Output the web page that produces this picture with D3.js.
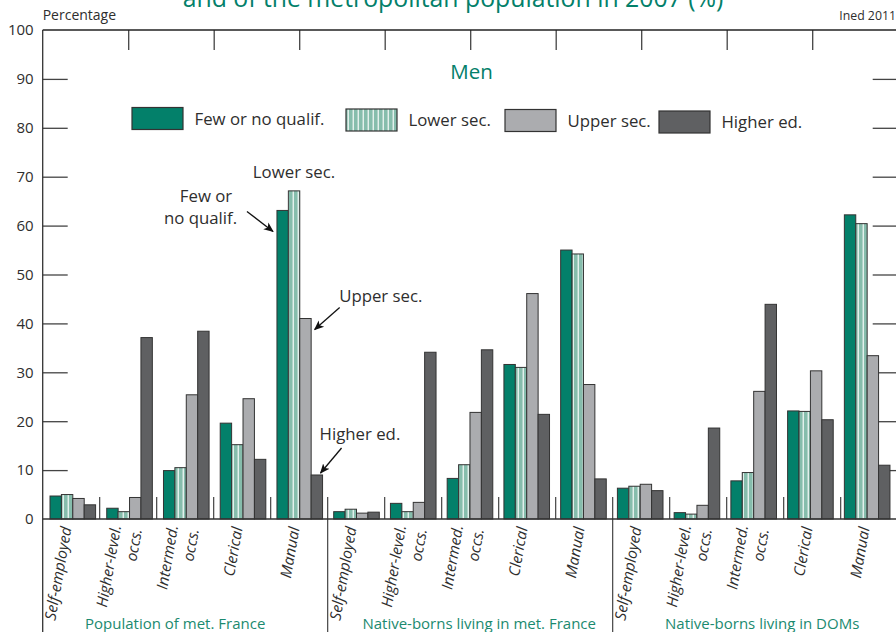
<!DOCTYPE html>
<html>
<head>
<meta charset="utf-8">
<script src="https://cdn.jsdelivr.net/npm/d3@7"></script>
<style>
  html, body { margin: 0; padding: 0; background: #fff; }
  svg { display: block; font-family: "Open Sans", "Noto Sans", sans-serif; }
</style>
</head>
<body>
<svg id="chart" width="896" height="632"></svg>
<script>
// ---------- DATA ----------
const titleText = "and of the metropolitan population in 2007 (%)";
const panelTitle = "Men";
const yAxisLabel = "Percentage";
const sourceText = "Ined 2011";
const groups = ["Population of met. France", "Native-borns living in met. France", "Native-borns living in DOMs"];
const occupations = [["Self-employed"], ["Higher-level.", "occs."], ["Intermed.", "occs."], ["Clerical"], ["Manual"]];
const seriesNames = ["Few or no qualif.", "Lower sec.", "Upper sec.", "Higher ed."];
const yTicks = [0, 10, 20, 30, 40, 50, 60, 70, 80, 90, 100];
// values: 3 groups x 5 occupations, in order
const fewOrNoQualif = [4.7, 2.2, 9.9, 19.6, 63.1,  1.5, 3.2, 8.3, 31.6, 55.0,  6.3, 1.3, 7.8, 22.1, 62.2];
const lowerSec      = [5.0, 1.5, 10.5, 15.2, 67.1, 2.0, 1.5, 11.1, 31.0, 54.2, 6.7, 1.0, 9.5, 22.0, 60.4];
const upperSec      = [4.2, 4.4, 25.4, 24.6, 41.0, 1.2, 3.4, 21.8, 46.1, 27.5, 7.1, 2.8, 26.1, 30.3, 33.4];
const higherEd      = [2.9, 37.1, 38.4, 12.2, 9.0, 1.4, 34.1, 34.6, 21.4, 8.2,  5.8, 18.6, 43.9, 20.3, 11.0];
const annotations = [
  { lines: ["Few or", "no qualif."], series: 0, cat: 4 },
  { lines: ["Lower sec."], series: 1, cat: 4 },
  { lines: ["Upper sec."], series: 2, cat: 4 },
  { lines: ["Higher ed."], series: 3, cat: 4 }
];

// ---------- LAYOUT ----------
const seriesValues = [fewOrNoQualif, lowerSec, upperSec, higherEd];
const nCat = groups.length * occupations.length;
const cats = d3.range(nCat);
const pLeft = 42.7, pRight = 897.7, pTop = 30, pBase = 519, pBottom = 632;
const teal = "#03806a", lightTeal = "#86bdac", upperGray = "#abacaf", darkGray = "#5f6062";
const fills = [teal, "url(#stripes)", upperGray, darkGray];
const ink = "#333";
const textCol = "#2e2e2e";

const svg = d3.select("#chart");
const defs = svg.append("defs");
const pat = defs.append("pattern").attr("id", "stripes").attr("patternUnits", "userSpaceOnUse")
  .attr("width", 5).attr("height", 10);
pat.append("rect").attr("width", 5).attr("height", 10).attr("fill", lightTeal);
pat.append("rect").attr("x", 2.6).attr("width", 1.3).attr("height", 10).attr("fill", "#eef6f3");
defs.append("marker").attr("id", "arrow").attr("viewBox", "0 0 10 10").attr("refX", 9).attr("refY", 5)
  .attr("markerWidth", 10).attr("markerHeight", 10).attr("markerUnits", "userSpaceOnUse").attr("orient", "auto")
  .append("path").attr("d", "M0,0.8 L10,5 L0,9.2 L2.5,5 Z").attr("fill", "#111");

const y = d3.scaleLinear().domain([0, 100]).range([pBase, pTop]);
const xSep = d3.scaleLinear().domain([0, nCat]).range([pLeft, pRight]);
const xBar = d3.scaleBand().domain(cats).range([50, 50 + nCat * 56.74]).paddingInner(0).paddingOuter(0);
const xInner = d3.scaleBand().domain(d3.range(seriesNames.length)).range([0, 45.6]);
const xTop = d3.scaleLinear().domain([0, 10]).range([pLeft, pRight]);

// ---------- AXES ----------
const gLeft = svg.append("g").attr("transform", `translate(${pLeft},0)`)
  .call(d3.axisLeft(y).tickValues(yTicks).tickSizeInner(-25).tickSizeOuter(0).tickPadding(9));
gLeft.select(".domain").remove();
gLeft.selectAll(".tick line").attr("stroke", "#444").attr("stroke-width", 1.3)
  .filter(d => d === 0 || d === 100).remove();
gLeft.selectAll(".tick text").attr("font-size", 15).attr("fill", textCol).attr("font-family", "Open Sans");

const gRight = svg.append("g").attr("transform", `translate(${pRight},0)`)
  .call(d3.axisRight(y).tickValues(yTicks.filter(d => d > 0 && d < 100)).tickSizeInner(-25).tickSizeOuter(0).tickFormat(""));
gRight.select(".domain").remove();
gRight.selectAll(".tick line").attr("stroke", "#444").attr("stroke-width", 1.3);

const gTop = svg.append("g").attr("transform", `translate(0,${pTop})`)
  .call(d3.axisTop(xTop).tickValues(d3.range(1, 10)).tickSizeInner(-20).tickSizeOuter(0).tickFormat(""));
gTop.select(".domain").remove();
gTop.selectAll(".tick line").attr("stroke", "#444").attr("stroke-width", 1.3);

// frame lines
svg.append("line").attr("x1", pLeft).attr("x2", pRight).attr("y1", pTop).attr("y2", pTop).attr("stroke", "#222").attr("stroke-width", 1.4);
svg.append("line").attr("x1", pLeft).attr("x2", pLeft).attr("y1", pTop).attr("y2", pBottom).attr("stroke", "#333").attr("stroke-width", 1.3);

// category separators
svg.append("g").selectAll("line").data(d3.range(1, nCat)).join("line")
  .attr("x1", d => xSep(d)).attr("x2", d => xSep(d))
  .attr("y1", pBase - 22).attr("y2", d => d % occupations.length === 0 ? pBottom : pBase)
  .attr("stroke", "#333").attr("stroke-width", 1.1);

// ---------- BARS ----------
const barData = [];
cats.forEach(c => seriesValues.forEach((vals, s) => barData.push({ c, s, v: vals[c] })));
svg.append("g").selectAll("rect").data(barData).join("rect")
  .attr("x", d => xBar(d.c) + xInner(d.s))
  .attr("y", d => y(d.v))
  .attr("width", xInner.bandwidth())
  .attr("height", d => y(0) - y(d.v))
  .attr("fill", d => fills[d.s])
  .attr("stroke", ink).attr("stroke-width", 1);

// baseline
svg.append("line").attr("x1", pLeft).attr("x2", pRight).attr("y1", pBase).attr("y2", pBase).attr("stroke", "#333").attr("stroke-width", 1.4);

// ---------- TEXT ----------
svg.append("text").attr("x", 453).attr("y", 7).attr("text-anchor", "middle")
  .attr("font-size", 24.8).attr("fill", teal).text(titleText);
svg.append("text").attr("x", pLeft).attr("y", 20).attr("font-size", 14).attr("fill", textCol).text(yAxisLabel);
svg.append("text").attr("x", 896).attr("y", 20).attr("text-anchor", "end").attr("font-size", 12.3).attr("fill", textCol).text(sourceText);
svg.append("text").attr("x", 471.5).attr("y", 79).attr("text-anchor", "middle").attr("font-size", 20.5).attr("fill", teal).text(panelTitle);

// legend
const legendX = [132, 346, 505, 659];
const legendY = [107.5, 109, 109.5, 111];
const leg = svg.append("g");
seriesNames.forEach((name, i) => {
  leg.append("rect").attr("x", legendX[i]).attr("y", legendY[i]).attr("width", 51).attr("height", 22)
    .attr("fill", fills[i]).attr("stroke", ink).attr("stroke-width", 1.2);
  leg.append("text").attr("x", legendX[i] + 62.5).attr("y", legendY[i] + 17).attr("font-size", 16.8)
    .attr("fill", textCol).text(name);
});

// category labels
const occIndex = c => c % occupations.length;
const catG = svg.append("g");
cats.forEach(c => {
  const lines = occupations[occIndex(c)];
  const shift = lines.length > 1 ? 3 : 0;
  const g = catG.append("g").attr("transform", `translate(${xSep(c) + 24 + shift},527) rotate(-80)`);
  lines.forEach((ln, i) => {
    g.append("text").attr("x", 0).attr("y", (i - (lines.length - 1) / 2) * 21 + 5)
      .attr("text-anchor", "end").attr("font-style", "italic").attr("font-size", 15.3).attr("fill", textCol).text(ln);
  });
});

// group labels
const groupNudge = [-10, 9, 7];
groups.forEach((gname, i) => {
  const cx = (xSep(i * occupations.length) + xSep((i + 1) * occupations.length)) / 2 + groupNudge[i];
  svg.append("text").attr("x", cx).attr("y", 629).attr("text-anchor", "middle")
    .attr("font-size", 15).attr("fill", "#1b8a6f").text(gname);
});

// annotations
const barX = (a) => xBar(a.cat) + xInner(a.series);
const barTop = (a) => y(seriesValues[a.series][a.cat]);
const ann = svg.append("g").attr("font-size", 16.8).attr("fill", textCol);
// Few or no qualif.
{
  const a = annotations[0];
  const tx = barX(a) - 4, ty = barTop(a) + 21;
  ann.append("text").attr("x", 206).attr("y", 202).attr("text-anchor", "middle").text(a.lines[0]);
  ann.append("text").attr("x", 200.5).attr("y", 224).attr("text-anchor", "middle").text(a.lines[1]);
  ann.append("line").attr("x1", tx - 26).attr("y1", ty - 20).attr("x2", tx).attr("y2", ty)
    .attr("stroke", "#111").attr("stroke-width", 1.3).attr("marker-end", "url(#arrow)");
}
// Lower sec.
{
  const a = annotations[1];
  ann.append("text").attr("x", barX(a) + xInner.bandwidth() / 2).attr("y", barTop(a) - 13).attr("text-anchor", "middle").text(a.lines[0]);
}
// Upper sec.
{
  const a = annotations[2];
  const tx = barX(a) + xInner.bandwidth() + 3.5, ty = barTop(a) + 11;
  ann.append("text").attr("x", tx + 24.5).attr("y", ty - 28).text(a.lines[0]);
  ann.append("line").attr("x1", tx + 25).attr("y1", ty - 22).attr("x2", tx).attr("y2", ty)
    .attr("stroke", "#111").attr("stroke-width", 1.3).attr("marker-end", "url(#arrow)");
}
// Higher ed.
{
  const a = annotations[3];
  const tx = barX(a) + xInner.bandwidth() - 2, ty = barTop(a) - 2;
  ann.append("text").attr("x", tx - 1).attr("y", ty - 33).text(a.lines[0]);
  ann.append("line").attr("x1", tx + 21).attr("y1", ty - 25).attr("x2", tx).attr("y2", ty)
    .attr("stroke", "#111").attr("stroke-width", 1.3).attr("marker-end", "url(#arrow)");
}
</script>
</body>
</html>
